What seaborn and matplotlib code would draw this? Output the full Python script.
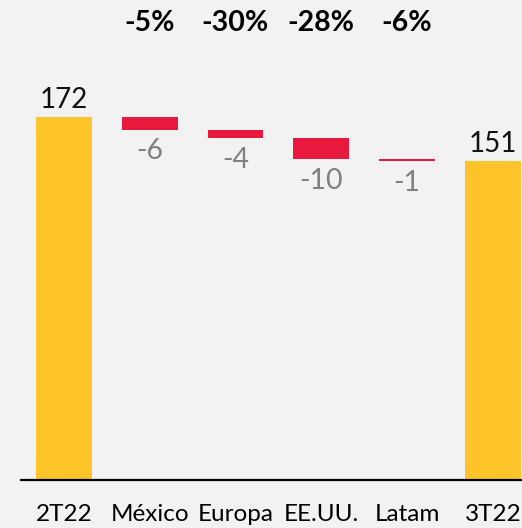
import pandas as pd
import matplotlib.pyplot as plt
import seaborn as sns

# Waterfall data
categories = ['2T22', 'México', 'Europa', 'EE.UU.', 'Latam', '3T22']
start_total = 172
deltas = [-6, -4, -10, -1]
end_total = 151
pct_labels = ['-5%', '-30%', '-28%', '-6%']

delta_cats = categories[1:5]
delta_bottoms = []
running = start_total
for d in deltas:
    delta_bottoms.append(running)
    running += d

totals = pd.DataFrame({'cat': [categories[0], categories[5]], 'val': [start_total, end_total]})
changes = pd.DataFrame({'cat': delta_cats, 'val': deltas})

bg = '#F2F2F2'
yellow = '#FFC42A'
red = '#E8193C'

sns.set_style('white')
plt.rcParams['font.family'] = ['Lato', 'DejaVu Sans']

fig = plt.figure(figsize=(5.22, 5.28), dpi=100, facecolor=bg)
ax = fig.add_axes([21 / 522, 48 / 528, 1 - 21 / 522, 480 / 528])
ax.set_facecolor(bg)

sns.barplot(data=totals, x='cat', y='val', order=categories, color=yellow,
            saturation=1, width=0.65, errorbar=None, linewidth=0, ax=ax)
sns.barplot(data=changes, x='cat', y='val', order=categories, color=red,
            saturation=1, width=0.65, errorbar=None, linewidth=0,
            bottom=delta_bottoms, ax=ax)

# value labels
ax.annotate(str(start_total), (0, start_total), xytext=(0, 3), textcoords='offset points',
            ha='center', va='bottom', fontsize=20, color='#111111')
ax.annotate(str(end_total), (5, end_total), xytext=(0, 3), textcoords='offset points',
            ha='center', va='bottom', fontsize=20, color='#111111')
for i, (d, b) in enumerate(zip(deltas, delta_bottoms)):
    ax.annotate(str(d), (i + 1, b + d), xytext=(0, -6), textcoords='offset points',
                ha='center', va='top', fontsize=20.5, color='#808080')

# percentage labels on top
for i, p in enumerate(pct_labels):
    ax.text(i + 1, 0.952, p, transform=ax.get_xaxis_transform(), ha='center', va='center',
            fontsize=20.5, fontweight='bold', color='black')

ax.set_xlim(-0.5, 5.34)
ax.set_ylim(0, 227.5)
ax.set_xlabel('')
ax.set_ylabel('')
ax.set_yticks([])
for s in ['top', 'right', 'left']:
    ax.spines[s].set_visible(False)
ax.spines['bottom'].set_color('black')
ax.spines['bottom'].set_linewidth(1.6)
ax.tick_params(axis='x', length=0, pad=17, labelsize=17.5, colors='black')

fig.savefig('out.png', dpi=100, facecolor=bg)
